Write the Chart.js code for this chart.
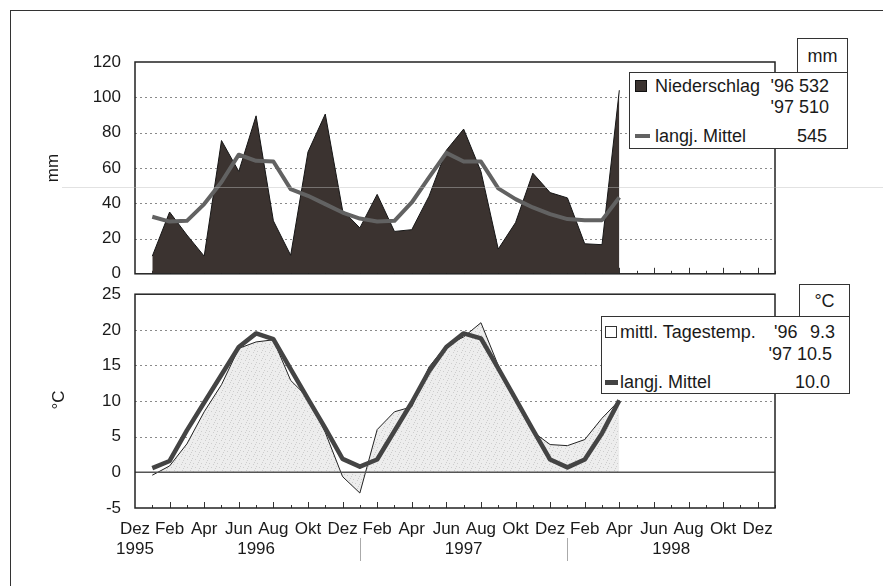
<!DOCTYPE html>
<html><head><meta charset="utf-8">
<script src="https://cdn.jsdelivr.net/npm/chart.js@4.4.1/dist/chart.umd.min.js"></script>
<style>
html,body{margin:0;padding:0;background:#fff;width:883px;height:586px;overflow:hidden;}
body{position:relative;font-family:'Liberation Sans',Arial,sans-serif;color:#1a1a1a;}
.abs{position:absolute;}
canvas{position:absolute;left:0;}
.box{position:absolute;background:#fff;border:1px solid #333;box-sizing:border-box;}
.t{position:absolute;font-size:18px;line-height:20px;white-space:nowrap;transform:translateY(-50%);}
.u{position:absolute;font-size:18px;line-height:20px;left:0;right:0;text-align:center;top:50%;transform:translateY(-50%);}
.ytitle{position:absolute;font-size:17px;white-space:nowrap;transform:translate(-50%,-50%) rotate(-90deg);}
</style></head><body>
<div class="abs" style="left:10px;top:10px;width:900px;height:600px;border-left:1.5px solid #333;border-top:1.5px solid #333;"></div>
<canvas id="c1" width="883" height="298" style="top:0"></canvas>
<canvas id="c2" width="883" height="316" style="top:270px"></canvas>
<div class="ytitle" style="left:53px;top:168px">mm</div>
<div class="ytitle" style="left:59px;top:400px">°C</div>

<div class="box" style="left:797px;top:38px;width:51px;height:35px;"><div class="u">mm</div></div>
<div class="box" style="left:629px;top:72px;width:219px;height:77px;">
  <div class="abs" style="left:5px;top:7px;width:12px;height:12px;background:#3b3330;border:1px solid #111;box-sizing:border-box;"></div>
  <div class="t" style="left:25px;top:13px;">Niederschlag</div>
  <div class="t" style="right:18px;top:13px;">'96 532</div>
  <div class="t" style="right:18px;top:34px;">'97 510</div>
  <div class="abs" style="left:5px;top:61px;width:15px;height:4px;background:#626262;"></div>
  <div class="t" style="left:25px;top:63px;">langj. Mittel</div>
  <div class="t" style="right:20px;top:63px;">545</div>
</div>

<div class="box" style="left:799px;top:284px;width:51px;height:33px;"><div class="u">°C</div></div>
<div class="box" style="left:601px;top:316px;width:249px;height:78px;">
  <div class="abs" style="left:3px;top:9px;width:12px;height:12px;background:#fff;border:1px solid #333;box-sizing:border-box;"></div>
  <div class="t" style="left:18px;top:15px;">mittl. Tagestemp.</div>
  <div class="t" style="left:172px;top:15px;">'96</div>
  <div class="t" style="right:14px;top:15px;">9.3</div>
  <div class="t" style="right:17px;top:37px;">'97 10.5</div>
  <div class="abs" style="left:3px;top:63px;width:13px;height:5px;background:#444;"></div>
  <div class="t" style="left:18px;top:65px;">langj. Mittel</div>
  <div class="t" style="right:19px;top:65px;">10.0</div>
</div>
<div class="abs" style="left:62px;top:187px;width:821px;height:1px;background:rgba(190,190,190,0.45);"></div>

<script>
// ---- data ----
const monthLabels = ['Dez','','Feb','','Apr','','Jun','','Aug','','Okt','',
                     'Dez','','Feb','','Apr','','Jun','','Aug','','Okt','',
                     'Dez','','Feb','','Apr','','Jun','','Aug','','Okt','',
                     'Dez',''];
const yearLabels = ['1995','','','','','','','1996','','','','',
                    '','','','','','','','1997','','','','',
                    '','','','','','','','1998','','','','',
                    '',''];
const precip = [null, 10, 35, 22, 10, 75.5, 58, 89.5, 30, 10.5, 69, 90.5, 36,
                26, 45, 24, 25, 44, 70, 82, 58, 14, 29, 57, 46,
                43, 17, 16.5, 104,
                null, null, null, null, null, null, null, null, null];
const precipMean = [null, 32.3, 29.6, 30, 39.5, 52, 67.5, 64, 63.6, 48, 44.2, 39.5, 34.7,
                    31.3, 29.6, 30, 40.4, 54.6, 68.5, 63.6, 63.6, 48.4, 42.3, 37.6, 33.8,
                    31, 30.4, 30.4, 43.3,
                    null, null, null, null, null, null, null, null, null];
const temp = [null, -0.4, 0.9, 4.0, 8.5, 12.3, 17.4, 18.3, 18.6, 12.9, 10.5, 5.6, -0.6,
              -2.9, 6.0, 8.5, 9.2, 14.8, 17.8, 19.0, 21.0, 15.0, 10.3, 5.7, 3.9,
              3.75, 4.6, 7.6, 10.1,
              null, null, null, null, null, null, null, null, null];
const tempMean = [null, 0.6, 1.6, 5.9, 9.8, 13.7, 17.6, 19.5, 18.7, 14.5, 10.3, 6.2, 1.9,
                  0.8, 1.8, 5.8, 9.8, 14.2, 17.6, 19.5, 18.8, 14.6, 10.3, 6.0, 1.8,
                  0.7, 1.8, 5.5, 10.1,
                  null, null, null, null, null, null, null, null, null];
const precipTicks = {min: 0, max: 120, step: 20};
const tempTicks = {min: -5, max: 25, step: 5};
const yearSeparators = [13, 25];

// ---- style ----
const FONT = "'Liberation Sans', Arial, sans-serif";
Chart.defaults.font.family = FONT;
Chart.defaults.color = '#1a1a1a';
const labels = monthLabels.map((m, i) => [m, yearLabels[i]]);

function stipple(){
  const c = document.createElement('canvas'); c.width = 8; c.height = 8;
  const g = c.getContext('2d');
  g.fillStyle = '#ededed'; g.fillRect(0,0,8,8);
  g.fillStyle = '#cdcdcd';
  [[1,1],[5,2],[3,5],[7,6],[0,4],[6,0]].forEach(([x,y]) => g.fillRect(x,y,1,1));
  return g.createPattern(c, 'repeat');
}

const decor = {
  id: 'decor',
  beforeDatasetsDraw(chart, args, opts) {
    const {ctx, chartArea: a, scales: {x, y}} = chart;
    ctx.save();
    ctx.strokeStyle = '#8a8a8a'; ctx.lineWidth = 1; ctx.setLineDash([2, 3]);
    y.ticks.forEach(t => {
      if (t.value === y.min || t.value === y.max || t.value === 0) return;
      const py = Math.round(y.getPixelForValue(t.value)) + 0.5;
      ctx.beginPath(); ctx.moveTo(a.left, py); ctx.lineTo(a.right, py); ctx.stroke();
    });
    ctx.setLineDash([]);
    ctx.strokeStyle = '#333'; ctx.lineWidth = 1;
    for (let i = 1; i < labels.length; i++) {
      const px = Math.round(x.getPixelForValue(i)) + 0.5;
      const len = i % 2 === 0 ? 6 : 3;
      ctx.beginPath(); ctx.moveTo(px, a.bottom); ctx.lineTo(px, a.bottom - len); ctx.stroke();
    }
    ctx.restore();
  },
  afterDatasetsDraw(chart, args, opts) {
    const {ctx, chartArea: a, scales: {x, y}} = chart;
    ctx.save();
    if (opts.zero) {
      const py = y.getPixelForValue(0);
      ctx.strokeStyle = '#555'; ctx.lineWidth = 1.5;
      ctx.beginPath(); ctx.moveTo(a.left, py); ctx.lineTo(a.right, py); ctx.stroke();
    }
    ctx.strokeStyle = '#222'; ctx.lineWidth = 1.5;
    ctx.strokeRect(a.left, a.top, a.right - a.left, a.bottom - a.top);
    if (opts.separators) {
      ctx.strokeStyle = '#aaa'; ctx.lineWidth = 1;
      opts.separators.forEach(i => {
        const px = Math.round(x.getPixelForValue(i)) + 0.5;
        ctx.beginPath(); ctx.moveTo(px, a.bottom + 30); ctx.lineTo(px, a.bottom + 53); ctx.stroke();
      });
    }
    ctx.restore();
  }
};

function yScale(t) {
  return {
    min: t.min, max: t.max,
    afterFit(s) { s.width = 135; },
    grid: {display: false, drawTicks: false},
    border: {display: false},
    ticks: {stepSize: t.step, padding: 14, font: {size: 17}, color: '#1a1a1a'}
  };
}

new Chart(document.getElementById('c1'), {
  type: 'line',
  data: {
    labels: labels,
    datasets: [
      {data: precipMean, borderColor: '#626262', borderWidth: 4, pointRadius: 0,
       fill: false, tension: 0, order: 0, borderJoinStyle: 'round'},
      {data: precip, borderColor: '#151515', borderWidth: 1, backgroundColor: '#3b3330',
       pointRadius: 0, fill: 'origin', tension: 0, order: 1}
    ]
  },
  options: {
    responsive: false, animation: false,
    layout: {padding: {left: 0, right: 108, top: 62, bottom: 7}},
    plugins: {legend: {display: false}, tooltip: {enabled: false}, decor: {zero: false}},
    scales: {
      x: {type: 'category', offset: false, display: false, grid: {display: false}},
      y: yScale(precipTicks)
    }
  },
  plugins: [decor]
});

new Chart(document.getElementById('c2'), {
  type: 'line',
  data: {
    labels: labels,
    datasets: [
      {data: tempMean, borderColor: '#444', borderWidth: 4.5, pointRadius: 0,
       fill: false, tension: 0, order: 0, borderJoinStyle: 'round'},
      {data: temp, borderColor: '#222', borderWidth: 1, backgroundColor: stipple(),
       pointRadius: 0, fill: 'origin', tension: 0, order: 1}
    ]
  },
  options: {
    responsive: false, animation: false,
    layout: {padding: {left: 0, right: 108, top: 13, bottom: 0}},
    plugins: {legend: {display: false}, tooltip: {enabled: false},
              decor: {zero: true, separators: yearSeparators}},
    scales: {
      x: {type: 'category', offset: false,
          afterFit(s) { s.height = 78; },
          grid: {display: false, drawTicks: false}, border: {display: false},
          ticks: {autoSkip: false, maxRotation: 0, minRotation: 0, padding: 11,
                  font: {size: 17}, color: '#1a1a1a'}},
      y: yScale(tempTicks)
    }
  },
  plugins: [decor]
});
</script>
</body></html>
